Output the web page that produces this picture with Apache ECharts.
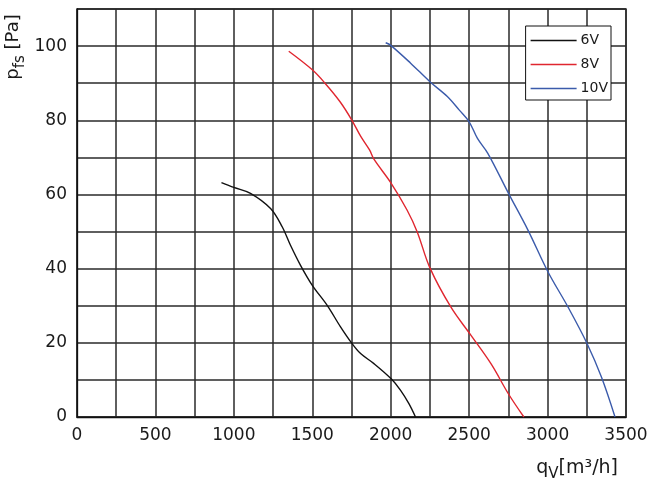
<!DOCTYPE html>
<html>
<head>
<meta charset="utf-8">
<script src="https://cdn.jsdelivr.net/npm/echarts@6/dist/echarts.min.js"></script>
<style>html,body{margin:0;padding:0;background:#fff}#c{width:665px;height:486px}</style>
</head>
<body>
<div id="c"></div>
<script>
// Data
const seriesNames = ['6V', '8V', '10V'];
const v6x = [921, 1000, 1106, 1234, 1308, 1361, 1425, 1500, 1595, 1680, 1750, 1808, 1893, 2003, 2063, 2116, 2158];
const v6y = [63.2, 61.9, 60.3, 56.2, 51.3, 46.3, 40.9, 35.5, 30.1, 24.3, 20, 17.1, 14.4, 10.3, 7.2, 3.6, 0];
const v8x = [1350, 1500, 1581, 1677, 1750, 1808, 1865, 1893, 2000, 2104, 2169, 2250, 2384, 2512, 2640, 2751, 2849];
const v8y = [98.6, 93.6, 90, 85, 80.2, 75.7, 72, 69.5, 63.2, 55.8, 49.9, 40.2, 29.6, 22, 14.3, 6.2, 0];
const v10x = [1968, 2000, 2127, 2250, 2361, 2436, 2500, 2553, 2619, 2751, 2875, 3003, 3131, 3253, 3344, 3430];
const v10y = [100.9, 100.2, 95.4, 90.4, 86.4, 82.8, 79.6, 75.1, 71.1, 60.3, 50.4, 39.1, 29.6, 19.7, 10.7, 0];
const xLabelStep = 500;
const yLabelStep = 20;
const yLabelMax = 100;

const zip = (xs, ys) => xs.map((x, i) => [x, ys[i]]);
const colors = ['#111111', '#e0262f', '#3b5bab'];
const font = 'DejaVu Sans';

const chart = echarts.init(document.getElementById('c'), null, {renderer: 'canvas'});
chart.setOption({
  animation: false,
  backgroundColor: '#fff',
  grid: {left: 77, right: 39, top: 9, bottom: 69, show: true, borderColor: '#111', borderWidth: 1.3, backgroundColor: 'transparent'},
  xAxis: {
    type: 'value', min: 0, max: 3500, interval: 250,
    axisLine: {show: true, lineStyle: {color: '#111', width: 1.3}},
    axisTick: {show: false},
    splitLine: {show: true, lineStyle: {color: '#2a2a2a', width: 1.5}},
    axisLabel: {
      margin: 10, color: '#1a1a1a', fontSize: 17, fontFamily: font,
      formatter: v => (v % xLabelStep === 0 ? String(v) : '')
    }
  },
  yAxis: {
    type: 'value', min: 0, max: 110, interval: 10,
    axisLine: {show: true, lineStyle: {color: '#111', width: 1.3}},
    axisTick: {show: false},
    splitLine: {show: true, lineStyle: {color: '#2a2a2a', width: 1.5}},
    axisLabel: {
      margin: 10, color: '#1a1a1a', fontSize: 17, fontFamily: font,
      formatter: v => (v % yLabelStep === 0 && v <= yLabelMax ? String(v) : '')
    }
  },
  legend: {
    orient: 'vertical', right: 54, top: 26,
    data: seriesNames,
    icon: 'rect', itemWidth: 46, itemHeight: 1.5, itemGap: 7,
    padding: [6, 3, 3, 5],
    backgroundColor: '#fff', borderColor: '#111', borderWidth: 1, borderRadius: 0,
    textStyle: {fontSize: 14, color: '#1a1a1a', fontFamily: font, lineHeight: 17, padding: [0, 0, 0, -1]}
  },
  series: [
    {name: seriesNames[0], data: zip(v6x, v6y)},
    {name: seriesNames[1], data: zip(v8x, v8y)},
    {name: seriesNames[2], data: zip(v10x, v10y)}
  ].map((s, i) => Object.assign(s, {
    type: 'line', smooth: 0.35, showSymbol: false, symbol: 'none',
    color: colors[i], lineStyle: {color: colors[i], width: 1.4}, z: 5
  })),
  graphic: [
    {
      type: 'text', x: 16, y: 47, rotation: Math.PI / 2,
      style: {
        text: '{m|p}{s|fs}{m| [Pa]}',
        align: 'center', verticalAlign: 'middle',
        fill: '#1a1a1a', fontFamily: font,
        rich: {
          m: {fontSize: 18, fontFamily: font, fill: '#1a1a1a', lineHeight: 20, verticalAlign: 'top'},
          s: {fontSize: 15, fontFamily: font, fill: '#1a1a1a', lineHeight: 23, verticalAlign: 'bottom'}
        }
      }
    },
    {
      type: 'text', x: 618, y: 470,
      style: {
        text: '{m|q}{s|V}{m|[m³/h]}',
        align: 'right', verticalAlign: 'middle',
        fill: '#1a1a1a', fontFamily: font,
        rich: {
          m: {fontSize: 19, fontFamily: font, fill: '#1a1a1a', lineHeight: 20, verticalAlign: 'top'},
          s: {fontSize: 15, fontFamily: font, fill: '#1a1a1a', lineHeight: 23, verticalAlign: 'bottom'}
        }
      }
    }
  ]
});
</script>
</body>
</html>
